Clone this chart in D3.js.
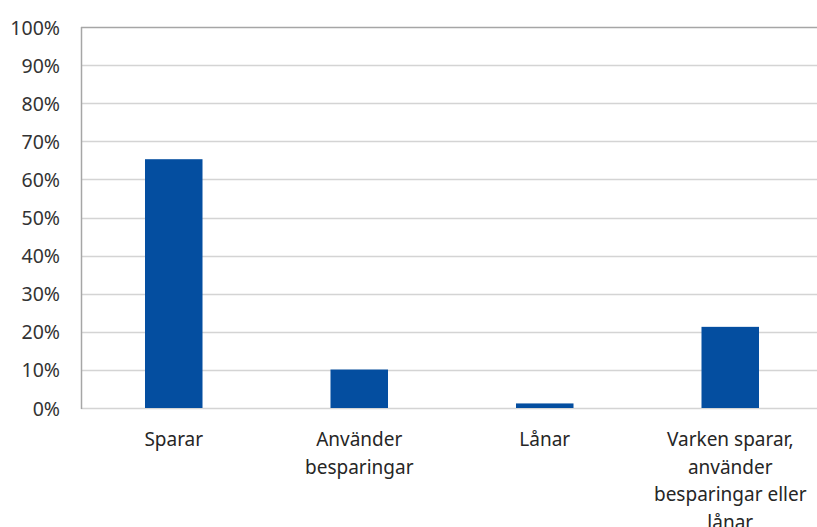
<!DOCTYPE html>
<meta charset="utf-8">
<script src="https://cdn.jsdelivr.net/npm/d3@7"></script>
<style>
    body { margin: 0; background: #fff; }
    .tick text { font-family: "Noto Sans", sans-serif; fill: #333; }
</style>
<body>
<div id="chart"></div>
<script>

    var categories = ["Sparar", "Använder besparingar", "Lånar", "Varken sparar, använder besparingar eller lånar"]
    var labelLines = [["Sparar"], ["Använder", "besparingar"], ["Lånar"], ["Varken sparar,", "använder", "besparingar eller", "lånar"]]
    var values = [0.653, 0.101, 0.012, 0.213]
    var yTicks = [0, 0.1, 0.2, 0.3, 0.4, 0.5, 0.6, 0.7, 0.8, 0.9, 1.0]

    var W = 817, H = 527
    var pLeft = 81, pTop = 27, pBottom = 408, pRight = 823

    var svg = d3.select("#chart").append("svg").attr("width", W).attr("height", H)

    var x_scale = d3.scaleBand().domain(categories).range([pLeft, pRight]).paddingInner(0.69).paddingOuter(0.345)
    var y_scale = d3.scaleLinear().domain([0, 1]).range([pBottom, pTop])

    // gridlines
    svg.selectAll(".grid").data(yTicks).enter().append("line")
        .attr("x1", pLeft).attr("x2", W)
        .attr("y1", d => Math.round(y_scale(d)) + 0.5).attr("y2", d => Math.round(y_scale(d)) + 0.5)
        .style("stroke", d => d == 1 ? "#a6a6a6" : "#d4d4d4").style("stroke-width", 1.4)

    // bars
    svg.selectAll(".bar").data(values).enter().append("rect").attr("class", "bar")
        .attr("x", (d, i) => x_scale(categories[i])).attr("width", x_scale.bandwidth())
        .attr("y", d => y_scale(d)).attr("height", d => pBottom - y_scale(d))
        .style("fill", "#044ea0")

    // y axis
    var y_axis = d3.axisLeft(y_scale).tickValues(yTicks).tickFormat(d3.format(".0%")).tickSize(0).tickPadding(21)
    var gy = svg.append("g").attr("transform", "translate(" + pLeft + ",0)").call(y_axis)
    gy.select(".domain").remove()
    gy.selectAll(".tick text").style("font-size", "19.5px").attr("dy", "0.36em")
    svg.append("line").attr("x1", pLeft + 0.5).attr("x2", pLeft + 0.5).attr("y1", pTop).attr("y2", pBottom + 1)
        .style("stroke", "#a6a6a6").style("stroke-width", 1.5)

    // x labels
    var gx = svg.append("g")
    labelLines.forEach((lines, i) => {
        var cx = x_scale(categories[i]) + x_scale.bandwidth() / 2
        var t = gx.append("text").attr("x", cx).attr("y", 446).attr("text-anchor", "middle")
            .style("font-family", "'Noto Sans', sans-serif").style("font-size", "19px").style("fill", "#262626")
        lines.forEach((l, j) => {
            t.append("tspan").attr("x", cx).attr("dy", j == 0 ? 0 : 27.5).text(l)
        })
    })

</script>
</body>
</html>
